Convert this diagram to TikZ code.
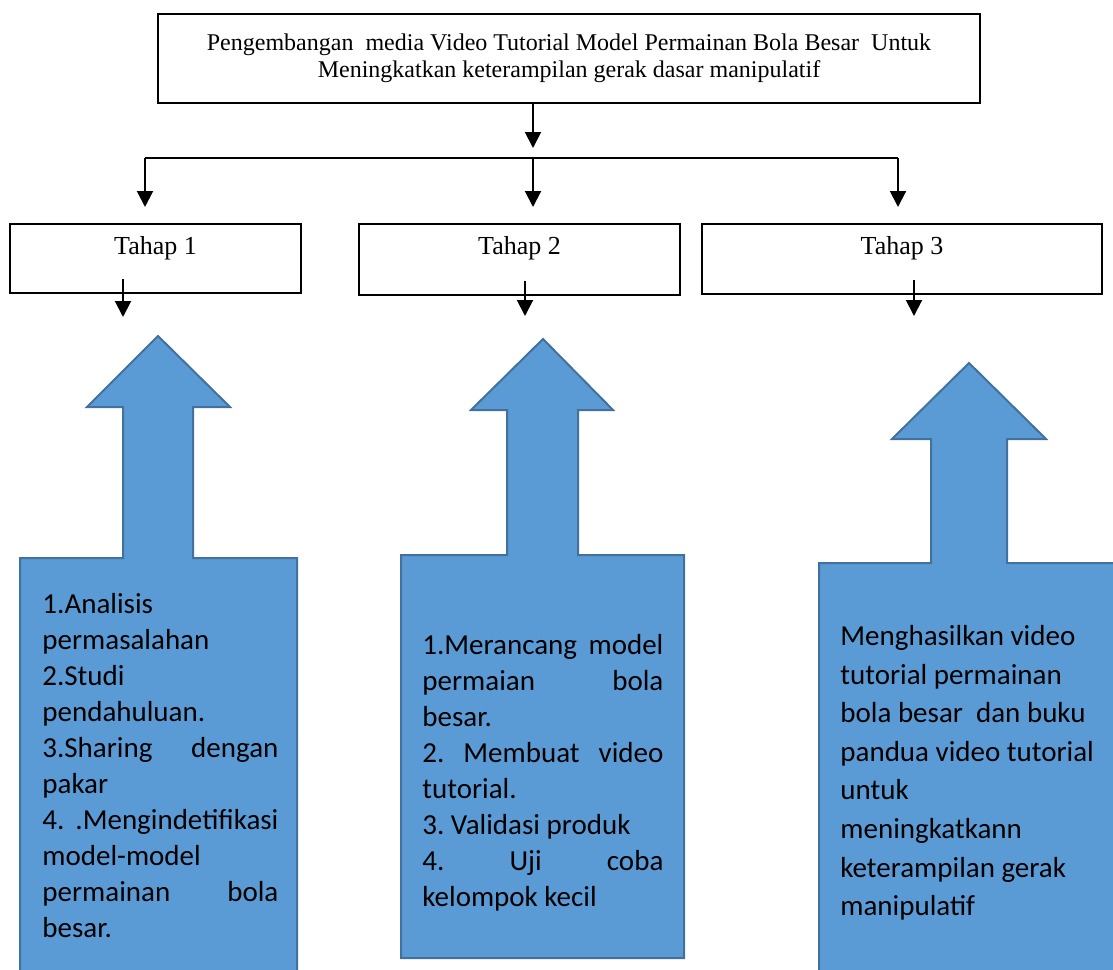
\documentclass[tikz,border=0pt]{standalone}
\usepackage{fontspec}
\setmainfont{Carlito}
\newfontfamily\timesfont{Liberation Serif}
\usetikzlibrary{arrows.meta,positioning,calc}
\definecolor{biru}{HTML}{5B9BD5}
\definecolor{birugaris}{HTML}{41719C}
\newcommand\spasi{\spaceskip=0pt\xspaceskip=0pt\frenchspacing\hyphenpenalty=10000}

\begin{document}
\begin{tikzpicture}[x=0.5pt, y=-0.5pt,
        box/.style={draw, line width=1pt, inner sep=0pt, font=\timesfont\fontsize{13}{14}\selectfont},
        arrow/.style={-{Triangle[width=8pt,length=8pt]}, line width=1pt},
        blok/.style={fill=biru, draw=birugaris, line width=1pt, line join=miter},
        isi/.style={anchor=north west, inner sep=0pt, text width=#1, align=left}
    ]
        \useasboundingbox (0,0) rectangle (1113,969);
        \clip (0,0) rectangle (1113,969);

        \node[box, minimum width=411pt, minimum height=44.5pt, align=center,
              font=\timesfont\fontsize{12}{13.5}\selectfont] (judul) at (569,58.5)
             {Pengembangan\ \ media Video Tutorial Model Permainan Bola Besar\ \ Untuk\\
              Meningkatkan keterampilan gerak dasar manipulatif};

        \node[box, minimum width=145.5pt, text height=15pt, text depth=19.5pt] (tahap1) at (155.5,258.5) {Tahap 1};
        \node[box, minimum width=160.5pt, text height=15pt, text depth=20.5pt] (tahap2) at (519.5,259.5) {Tahap 2};
        \node[box, minimum width=200pt, text height=15pt, text depth=20pt] (tahap3) at (902,259) {Tahap 3};

        \coordinate (cabang1) at (145,158);
        \coordinate (cabang2) at (533,158);
        \coordinate (cabang3) at (898,158);
        \draw[line width=1pt] (cabang1) -- (cabang3);
        \draw[arrow, shorten >=5pt] (judul.south -| cabang2) -- (cabang2);
        \foreach \i in {1,2,3} {
            \draw[arrow, shorten >=8pt] (cabang\i) -- (cabang\i |- tahap\i.north);
        }

        \coordinate (turun1) at (123,317);
        \coordinate (turun2) at (525,316);
        \coordinate (turun3) at (914,316);
        \foreach \i in {1,2,3} {
            \draw[arrow] ([yshift=7.5pt]tahap\i.south -| turun\i) -- (turun\i);
        }

        % panah blok ke atas
        \draw[blok] (123,558) -- (123,407) -- (87,407) -- (158,336) -- (230,407) -- (193,407)
            -- (193,558) -- (297,558) -- (297,975) -- (20,975) -- (20,558) -- cycle;
        \draw[blok] (507,555) -- (507,410) -- (471,410) -- (543,339) -- (613,410) -- (578,410)
            -- (578,555) -- (684,555) -- (684,958) -- (401,958) -- (401,555) -- cycle;
        \draw[blok] (931,563) -- (931,439) -- (892,439) -- (969,363) -- (1046,439) -- (1007,439)
            -- (1007,563) -- (1125,563) -- (1125,975) -- (819,975) -- (819,563) -- cycle;

        \node[isi=118pt, font=\fontsize{14.5}{18}\selectfont] (teks1) at (42,588)
            {\spasi\strut 1.Analisis\\
             permasalahan\\
             2.Studi\\
             pendahuluan.\\
             3.Sharing\hfill dengan\\
             pakar\\
             4.\hfill .Mengindetifikasi\\
             model-model\\
             permainan\hfill bola\\
             besar.};
        \node[isi=120.5pt, font=\fontsize{14.5}{18}\selectfont] (teks2) at (422,629)
            {\spasi\strut 1.Merancang\hfill model\\
             permaian\hfill bola\\
             besar.\\
             2.\hfill Membuat\hfill video\\
             tutorial.\\
             3. Validasi produk\\
             4.\hfill Uji\hfill coba\\
             kelompok kecil};
        \node[isi=140pt, font=\fontsize{14.5}{19.3}\selectfont] (teks3) at (840,618)
            {\spasi\strut Menghasilkan video\\
             tutorial permainan\\
             bola besar\ \ dan buku\\
             pandua video tutorial\\
             untuk\\
             meningkatkann\\
             keterampilan gerak\\
             manipulatif};
    \end{tikzpicture}
\end{document}
